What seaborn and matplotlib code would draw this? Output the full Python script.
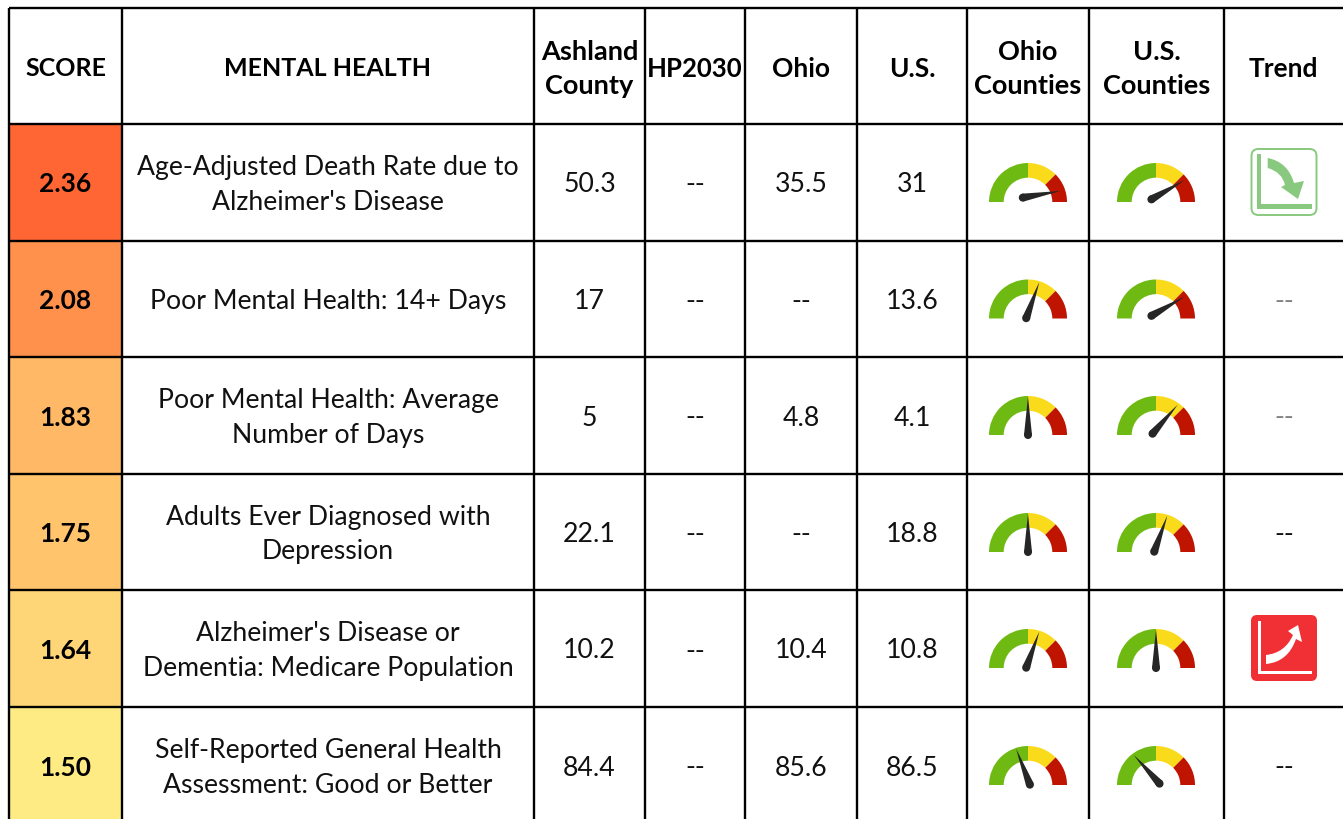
import matplotlib
matplotlib.use("Agg")
import matplotlib.pyplot as plt
from matplotlib.colors import LinearSegmentedColormap
from matplotlib.patches import Wedge, Polygon, Circle, FancyBboxPatch, Rectangle, PathPatch
from matplotlib.path import Path
import numpy as np
import seaborn as sns

# table content
headers = ["SCORE", "MENTAL HEALTH", "Ashland\nCounty", "HP2030", "Ohio", "U.S.",
           "Ohio\nCounties", "U.S.\nCounties", "Trend"]
scores = [2.36, 2.08, 1.83, 1.75, 1.64, 1.50]
indicators = ["Age-Adjusted Death Rate due to\nAlzheimer's Disease",
              "Poor Mental Health: 14+ Days",
              "Poor Mental Health: Average\nNumber of Days",
              "Adults Ever Diagnosed with\nDepression",
              "Alzheimer's Disease or\nDementia: Medicare Population",
              "Self-Reported General Health\nAssessment: Good or Better"]
ashland = ["50.3", "17", "5", "22.1", "10.2", "84.4"]
hp2030 = ["--", "--", "--", "--", "--", "--"]
ohio = ["35.5", "--", "4.8", "--", "10.4", "85.6"]
us = ["31", "13.6", "4.1", "18.8", "10.8", "86.5"]
# needle direction of each gauge, degrees (0 = far right, 180 = far left)
ohio_needle = [10, 70, 90, 90, 70, 111]
us_needle = [30, 30, 49, 70, 90, 132]
trend = ["down", "--", "--", "--", "up", "--"]

# grid lines in pixels
col_x = [9, 122, 534, 645, 745, 857, 967, 1089, 1224, 1343]
row_y = [8, 124, 240.5, 357, 474, 590, 707, 824]
header_size = [18, 18, 19.5, 18.5, 19, 19, 19.5, 19.5, 19]

FONT = "Lato"
W, H = 1343, 819


def gauge(ax, cx, base, angle):
    ax.add_patch(Wedge((cx, base), 39, 180, 270, width=14.7, color="#6fba12", lw=0))
    ax.add_patch(Wedge((cx, base), 39, 270, 315, width=14.7, color="#fadb1c", lw=0))
    ax.add_patch(Wedge((cx, base), 39, 315, 360, width=14.7, color="#bf1500", lw=0))
    # y axis is flipped so the needle goes up with negative y
    a = np.radians(angle)
    d = np.array([np.cos(a), -np.sin(a)])
    n = np.array([-d[1], d[0]])
    pivot = np.array([cx, base - 5.3])
    hub = pivot - 5.3 * d
    tip = pivot + 33 * d
    ax.add_patch(Polygon([hub + 4 * n, tip, hub - 4 * n], color="#262626", lw=0, zorder=4))
    ax.add_patch(Circle(hub, 4, color="#262626", lw=0, zorder=4))


def arrow_body(ax, pts, color):
    ax.add_patch(PathPatch(Path(pts, [Path.MOVETO, Path.CURVE3, Path.CURVE3, Path.LINETO,
                                      Path.LINETO, Path.LINETO, Path.LINETO,
                                      Path.CURVE3, Path.CURVE3, Path.CLOSEPOLY]),
                           fc=color, lw=0, zorder=4))


def trend_down(ax):
    g = "#89c97f"
    ax.add_patch(FancyBboxPatch((1251.5, 149), 65, 66, boxstyle="round,pad=0,rounding_size=7",
                                fc="white", ec=g, lw=1.4))
    ax.add_patch(Rectangle((1257, 154), 4, 55, color=g, lw=0))
    ax.add_patch(Rectangle((1257, 204), 55, 5, color=g, lw=0))
    arrow_body(ax, [(1267.7, 158), (1288, 162), (1294, 183), (1304, 181), (1298, 199),
                    (1281, 187), (1285, 185), (1282, 172), (1267.7, 168), (1267.7, 158)], g)


def trend_up(ax):
    r = "#f03035"
    ax.add_patch(FancyBboxPatch((1251, 615), 66, 66, boxstyle="round,pad=0,rounding_size=6",
                                fc=r, lw=0))
    ax.add_patch(Rectangle((1257.5, 621), 3.2, 53, color="white", lw=0))
    ax.add_patch(Rectangle((1257.5, 671), 54.5, 3.2, color="white", lw=0))
    arrow_body(ax, [(1266, 655), (1285, 653), (1293, 635), (1288, 631), (1298, 625),
                    (1302, 642), (1296, 639), (1288, 662), (1266, 664), (1266, 655)], "white")


sns.set_theme(style="white")
plt.rcParams["font.family"] = [FONT, "DejaVu Sans"]

fig = plt.figure(figsize=(W / 100, H / 100), dpi=100)

# score column is the heatmap
ax_score = fig.add_axes([col_x[0] / W, 1 - row_y[-1] / H, (col_x[1] - col_x[0]) / W,
                         (row_y[-1] - row_y[1]) / H])
score_cmap = LinearSegmentedColormap.from_list("score", ["#ffeb84", "#ff6633"])
sns.heatmap(np.array(scores).reshape(-1, 1), cmap=score_cmap, vmin=1.5, vmax=2.36, cbar=False,
            annot=np.array([[f"{s:.2f}"] for s in scores]), fmt="",
            annot_kws={"fontsize": 19, "fontweight": "bold", "color": "black", "family": FONT,
                       "va": "center_baseline"},
            xticklabels=False, yticklabels=False, ax=ax_score)

# everything else drawn on top in pixel coordinates
ax = fig.add_axes([0, 0, 1, 1], facecolor="none")
ax.set_xlim(0, W)
ax.set_ylim(H, 0)
ax.axis("off")

for x in col_x[:-1]:
    ax.plot([x, x], [row_y[0], H], color="black", lw=1.7, solid_capstyle="butt")
for y in row_y[:-1]:
    ax.plot([col_x[0], W], [y, y], color="black", lw=1.7, solid_capstyle="butt")

for i, h in enumerate(headers):
    ax.text((col_x[i] + col_x[i + 1]) / 2, 69, h, ha="center", va="center", fontsize=header_size[i],
            fontweight="bold", linespacing=1.45, color="black")

columns = [(1, indicators), (2, ashland), (3, hp2030), (4, ohio), (5, us)]
for r in range(len(scores)):
    mid = (row_y[r + 1] + row_y[r + 2]) / 2 + 2.5
    for c, vals in columns:
        ax.text((col_x[c] + col_x[c + 1]) / 2, mid, vals[r], ha="center", va="center",
                fontsize=19.2, linespacing=1.48, color="#111111")
    base = row_y[r + 1] + 78
    gauge(ax, 1028, base, ohio_needle[r])
    gauge(ax, 1156, base, us_needle[r])
    if trend[r] == "down":
        trend_down(ax)
    elif trend[r] == "up":
        trend_up(ax)
    else:
        ax.text(1284, mid, "--", ha="center", va="center", fontsize=19.2,
                color="#111111" if r > 2 else "#808080")

fig.savefig("out.png", dpi=100)
